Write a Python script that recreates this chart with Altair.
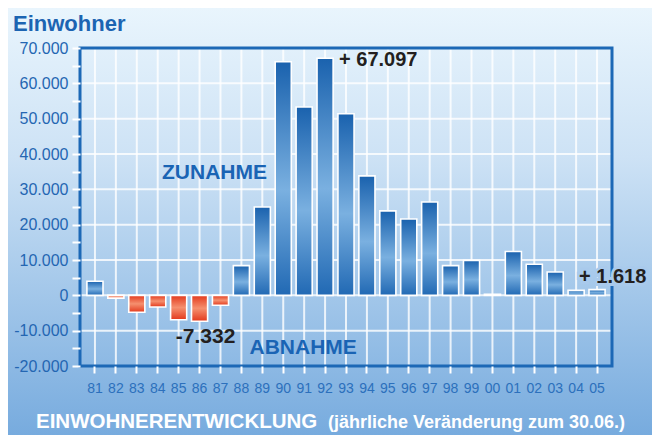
import altair as alt
import pandas as pd

# ---- data ----
years = ["81", "82", "83", "84", "85", "86", "87", "88", "89", "90", "91", "92", "93",
         "94", "95", "96", "97", "98", "99", "00", "01", "02", "03", "04", "05"]
changes = [4000, -800, -4800, -3300, -6900, -7332, -2800, 8400, 25000, 66100, 53300,
           67097, 51400, 33800, 23900, 21600, 26400, 8400, 9900, 300, 12400, 8800,
           6600, 1400, 1618]
grid_values = [-20000, -10000, 0, 10000, 20000, 30000, 40000, 50000, 60000, 70000]
tick_values = list(range(-20000, 70001, 5000))

W, H = 532, 318
FONT = "Liberation Sans"

df = pd.DataFrame({"jahr": years, "wert": changes})
pos_df = df[df["wert"] >= 0]
neg_df = df[df["wert"] < 0]
grid_df = pd.DataFrame({"wert": grid_values})

xscale = alt.Scale(domain=years, paddingInner=0.23, paddingOuter=0.33)
yscale = alt.Scale(domain=[-20000, 70000], nice=False, zero=False)

xaxis = alt.Axis(title=None, labelAngle=0, labelFont=FONT, labelFontSize=14,
                 labelColor="#2c70bc", tickColor="white", tickSize=7, tickWidth=2,
                 labelPadding=8, domain=False, grid=False, zindex=1)
yaxis = alt.Axis(title=None, values=tick_values, labelFont=FONT, labelFontSize=16,
                 labelColor="#2466b2", tickColor="white", tickSize=8, tickWidth=2,
                 labelPadding=4, domain=False, grid=False, zindex=1,
                 labelExpr="datum.value % 10000 == 0 ? (datum.value < 0 ? '-' : '') + "
                           "replace(format(abs(datum.value), ','), ',', '.') : ''")

X = lambda: alt.X("jahr:N", scale=xscale, axis=xaxis)
Y = lambda: alt.Y("wert:Q", scale=yscale, axis=yaxis)

one = alt.Data(values=[{}])

bg_grad = alt.LinearGradient(gradient="linear", x1=0, x2=0, y1=0, y2=1,
                             stops=[alt.GradientStop(offset=0, color="#e9f5fd"),
                                    alt.GradientStop(offset=0.35, color="#cde2f5"),
                                    alt.GradientStop(offset=1, color="#77abde")])
background = alt.Chart(one).mark_rect(fill=bg_grad, clip=False).encode(
    x=alt.value(-72), x2=alt.value(W + 40), y=alt.value(-40), y2=alt.value(H + 69))

vgrid = alt.Chart(df).mark_rule(color="white", strokeWidth=2, opacity=0.8).encode(x=X())
hgrid = alt.Chart(grid_df).mark_rule(color="white", strokeWidth=2, opacity=0.8).encode(y=Y())

blue_grad = alt.LinearGradient(gradient="linear", x1=0, x2=0, y1=0, y2=1,
                               stops=[alt.GradientStop(offset=0, color="#1a62ae"),
                                      alt.GradientStop(offset=0.55, color="#7ab0e0"),
                                      alt.GradientStop(offset=1, color="#2169b4")])
red_grad = alt.LinearGradient(gradient="linear", x1=0, x2=0, y1=0, y2=1,
                              stops=[alt.GradientStop(offset=0, color="#e3391c"),
                                     alt.GradientStop(offset=0.5, color="#f5906f"),
                                     alt.GradientStop(offset=1, color="#e3391c")])

bars_pos = alt.Chart(pos_df).mark_bar(fill=blue_grad, stroke="white", strokeWidth=1.6).encode(x=X(), y=Y())
bars_neg = alt.Chart(neg_df).mark_bar(fill=red_grad, stroke="white", strokeWidth=1.6).encode(x=X(), y=Y())


def annotation(cat, val, text, size, color, align, dx, halo=None):
    d = pd.DataFrame({"jahr": [cat], "wert": [val], "t": [text]})
    kw = dict(font=FONT, fontWeight="bold", fontSize=size, align=align,
              baseline="middle", dx=dx)
    if halo:
        kw.update(color=halo, stroke=halo, strokeWidth=6)
    else:
        kw.update(color=color)
    return alt.Chart(d).mark_text(**kw).encode(x=X(), y=Y(), text="t:N")


ann_zu = annotation("87", 34500, "ZUNAHME", 21, "#1a64b4", "center", -6)
ann_ab = annotation("91", -15000, "ABNAHME", 21, "#1a64b4", "center", -1)
ann_min = annotation("86", -11700, "-7.332", 21, "#231f20", "center", 6)
ann_max = annotation("92", 66500, "+ 67.097", 20, "#231f20", "left", 14)
ann_last_halo = annotation("05", 5300, "+ 1.618", 20, "#231f20", "left", -18, halo="#a9caec")
ann_last = annotation("05", 5300, "+ 1.618", 20, "#231f20", "left", -18)

border = alt.Chart(one).mark_rect(fillOpacity=0, stroke="#1c68b6", strokeWidth=3).encode(
    x=alt.value(0), x2=alt.value(W), y=alt.value(0), y2=alt.value(H))

title_top = alt.Chart(one).mark_text(text="Einwohner", font=FONT, fontWeight="bold", fontSize=22,
                                     color="#1c64b2", align="left", baseline="alphabetic").encode(
    x=alt.value(-67), y=alt.value(-17))
title_bot1 = alt.Chart(one).mark_text(text="EINWOHNERENTWICKLUNG", font=FONT, fontWeight="bold",
                                      fontSize=20.5, color="white", align="left",
                                      baseline="alphabetic").encode(
    x=alt.value(-44), y=alt.value(380))
title_bot2 = alt.Chart(one).mark_text(text="(jährliche Veränderung zum 30.06.)", font=FONT,
                                      fontWeight="bold", fontSize=18, color="white", align="left",
                                      baseline="alphabetic").encode(
    x=alt.value(248), y=alt.value(380))

chart = alt.layer(background, vgrid, hgrid, bars_pos, bars_neg, border,
                  ann_zu, ann_ab, ann_min, ann_max, ann_last_halo, ann_last,
                  title_top, title_bot1, title_bot2).properties(
    width=W, height=H,
    autosize=alt.AutoSizeParams(type="none"),
    padding={"left": 72, "top": 40, "right": 40, "bottom": 69},
).configure_view(strokeWidth=0).configure(background="#77abde")

chart.save("out.html", embed_options={"renderer": "svg", "actions": False})
